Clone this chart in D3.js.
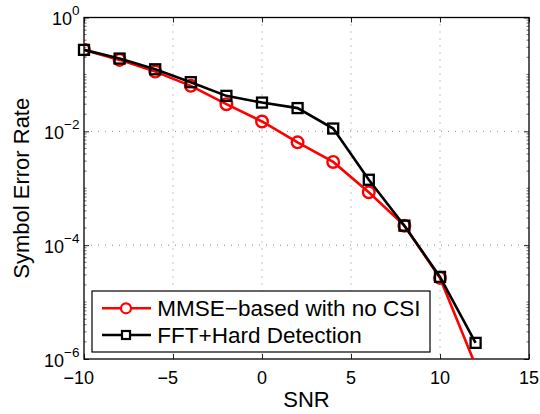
<!DOCTYPE html>
<html>
<head>
<meta charset="utf-8">
<script src="https://cdn.jsdelivr.net/npm/d3@7"></script>
<style>
  body { margin: 0; background: #fff; }
  text { font-family: "Liberation Sans", Arial, sans-serif; fill: #000; }
</style>
</head>
<body>
<div id="chart"></div>
<script>
// SNR values (x)
var snr = [-10, -8, -6, -4, -2, 0, 2, 4, 6, 8, 10, 12];
// MMSE-based with no CSI
var mmseSer = [0.27, 0.18, 0.112, 0.063, 0.030, 0.0149, 0.0064, 0.0029, 8.5e-4, 2.2e-4, 2.66e-5, 7.7e-7];
// FFT+Hard Detection
var fftSer = [0.27, 0.19, 0.123, 0.073, 0.042, 0.032, 0.0256, 0.0112, 1.41e-3, 2.2e-4, 2.77e-5, 1.92e-6];

var xTicks = [-10, -5, 0, 5, 10, 15];
var yTicks = [1e0, 1e-2, 1e-4, 1e-6];
var seriesNames = ["MMSE\u2212based with no CSI", "FFT+Hard Detection"];

var W = 540, H = 414;
var margin = {top: 17.5, right: 11, bottom: 55, left: 84};
var width = W - margin.left - margin.right;
var height = H - margin.top - margin.bottom;

var svg = d3.select("#chart").append("svg")
    .attr("width", W)
    .attr("height", H);

var g = svg.append("g")
    .attr("transform", "translate(" + margin.left + "," + margin.top + ")");

var xScale = d3.scaleLinear().domain([-10, 15]).range([0, width]);
var yScale = d3.scaleLog().domain([1e-6, 1]).range([height, 0]);

// clip
svg.append("defs").append("clipPath").attr("id", "plotclip")
    .append("rect").attr("width", width).attr("height", height);

// grid (dotted)
g.selectAll(".vgrid").data(xTicks.slice(1, -1)).enter().append("line")
    .attr("x1", function(d) { return xScale(d); })
    .attr("x2", function(d) { return xScale(d); })
    .attr("y1", 0).attr("y2", height)
    .attr("stroke", "#888").attr("stroke-width", 1)
    .style("stroke-dasharray", "1,6");
g.selectAll(".hgrid").data(yTicks.slice(1, -1)).enter().append("line")
    .attr("y1", function(d) { return yScale(d); })
    .attr("y2", function(d) { return yScale(d); })
    .attr("x1", 0).attr("x2", width)
    .attr("stroke", "#888").attr("stroke-width", 1)
    .style("stroke-dasharray", "1,6");

// minor y ticks
var minor = [];
for (var e = -6; e < 0; e++) {
    for (var m = 1; m < 10; m++) {
        if (m === 1 && e % 2 === 0) continue;
        minor.push(m * Math.pow(10, e));
    }
}
g.selectAll(".minL").data(minor).enter().append("line")
    .attr("x1", 0).attr("x2", 2.5)
    .attr("y1", function(d) { return yScale(d); })
    .attr("y2", function(d) { return yScale(d); })
    .attr("stroke", "#444").attr("stroke-width", 0.8);
g.selectAll(".minR").data(minor).enter().append("line")
    .attr("x1", width).attr("x2", width - 2.5)
    .attr("y1", function(d) { return yScale(d); })
    .attr("y2", function(d) { return yScale(d); })
    .attr("stroke", "#444").attr("stroke-width", 0.8);

// axes (ticks only, labels drawn by hand below)
var xAxis = d3.axisBottom(xScale).tickValues(xTicks).tickSize(-5).tickFormat("");
var xAxisTop = d3.axisTop(xScale).tickValues(xTicks).tickSize(-5).tickFormat("");
var yAxis = d3.axisLeft(yScale).tickValues(yTicks).tickSize(-5).tickFormat("");
var yAxisRight = d3.axisRight(yScale).tickValues(yTicks).tickSize(-5).tickFormat("");

g.append("g").attr("transform", "translate(0," + height + ")").call(xAxis);
g.append("g").call(xAxisTop);
g.append("g").call(yAxis);
g.append("g").attr("transform", "translate(" + width + ",0)").call(yAxisRight);
g.selectAll(".tick line").attr("stroke", "#222");
g.selectAll(".domain").remove();

// x tick labels: digits centred on the tick, minus hanging to the left
xTicks.forEach(function(v) {
    var digits = g.append("text")
        .attr("x", xScale(v))
        .attr("y", height + 24.5)
        .attr("text-anchor", "middle")
        .style("font-size", "18px")
        .text(Math.abs(v));
    if (v < 0) {
        var w = digits.node().getComputedTextLength();
        g.append("text")
            .attr("x", xScale(v) - w / 2)
            .attr("y", height + 24.5)
            .attr("text-anchor", "end")
            .style("font-size", "18px")
            .text("\u2212");
    }
});

// y tick labels 10^k
yTicks.forEach(function(v) {
    var p = Math.round(Math.log10(v));
    var t = g.append("text")
        .attr("x", -4.5)
        .attr("y", yScale(v) + 7.8)
        .attr("text-anchor", "end")
        .style("font-size", "18px");
    t.append("tspan").text("10");
    t.append("tspan").attr("dy", -10).style("font-size", "13.5px")
        .text(p === 0 ? "0" : "\u2212" + Math.abs(p));
});

// box
g.append("rect").attr("width", width).attr("height", height)
    .attr("fill", "none").attr("stroke", "#000").attr("stroke-width", 1.3);

// lines
var line = d3.line()
    .x(function(d) { return xScale(d[0]); })
    .y(function(d) { return yScale(d[1]); });

var mmseData = snr.map(function(s, i) { return [s, mmseSer[i]]; });
var fftData = snr.map(function(s, i) { return [s, fftSer[i]]; });

var plot = g.append("g").attr("clip-path", "url(#plotclip)");

plot.append("path").datum(mmseData).attr("d", line)
    .attr("fill", "none").attr("stroke", "#f00").attr("stroke-width", 2.6);
plot.selectAll(".circ").data(mmseData).enter().append("circle")
    .attr("cx", function(d) { return xScale(d[0]); })
    .attr("cy", function(d) { return yScale(d[1]); })
    .attr("r", 5.8)
    .attr("fill", "none").attr("stroke", "#f00").attr("stroke-width", 2.4);

plot.append("path").datum(fftData).attr("d", line)
    .attr("fill", "none").attr("stroke", "#000").attr("stroke-width", 2.6);
g.selectAll(".sq").data(fftData).enter().append("rect")
    .attr("x", function(d) { return xScale(d[0]) - 5; })
    .attr("y", function(d) { return yScale(d[1]) - 5; })
    .attr("width", 10).attr("height", 10)
    .attr("fill", "none").attr("stroke", "#000").attr("stroke-width", 2.3);

// axis labels
svg.append("text")
    .attr("x", margin.left + width / 2)
    .attr("y", 406.5)
    .attr("text-anchor", "middle")
    .style("font-size", "22px")
    .text("SNR");
svg.append("text")
    .attr("transform", "translate(28.5," + (margin.top + height / 2) + ") rotate(-90)")
    .attr("text-anchor", "middle")
    .style("font-size", "22px")
    .text("Symbol Error Rate");

// legend
var lg = svg.append("g").attr("transform", "translate(92,291)");
lg.append("rect").attr("width", 338).attr("height", 61)
    .attr("fill", "#fff").attr("stroke", "#000").attr("stroke-width", 1.2);
[0, 1].forEach(function(i) {
    var yy = 17.3 + i * 26.7;
    var col = i === 0 ? "#f00" : "#000";
    lg.append("line").attr("x1", 10).attr("x2", 59).attr("y1", yy).attr("y2", yy)
        .attr("stroke", col).attr("stroke-width", 2.6);
    if (i === 0) {
        lg.append("circle").attr("cx", 34).attr("cy", yy).attr("r", 5)
            .attr("fill", "#fff").attr("stroke", col).attr("stroke-width", 2.2);
    } else {
        lg.append("rect").attr("x", 30).attr("y", yy - 4).attr("width", 8).attr("height", 8)
            .attr("fill", "#fff").attr("stroke", col).attr("stroke-width", 2.2);
    }
    lg.append("text").attr("x", 65.3).attr("y", yy + 7.7)
        .style("font-size", "22.5px")
        .text(seriesNames[i]);
});
</script>
</body>
</html>
